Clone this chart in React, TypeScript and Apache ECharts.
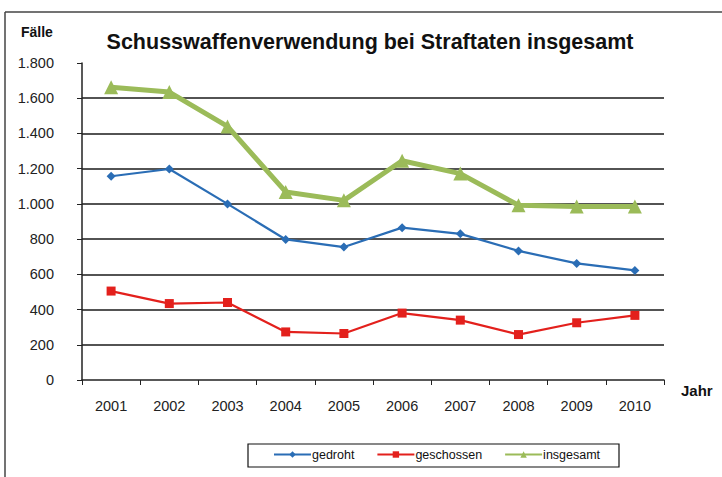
import React, { useEffect, useRef } from "react";
import * as echarts from "echarts";

const years = ["2001", "2002", "2003", "2004", "2005", "2006", "2007", "2008", "2009", "2010"];
const gedroht = [1157, 1198, 1000, 798, 755, 865, 830, 733, 662, 622];
const geschossen = [505, 434, 440, 273, 264, 380, 340, 258, 325, 367];
const insgesamt = [1662, 1635, 1440, 1068, 1020, 1245, 1172, 992, 985, 985];
const yTicks = [0, 200, 400, 600, 800, 1000, 1200, 1400, 1600, 1800];

const FONT = "Liberation Sans, Arial, sans-serif";

export default function App() {
  const ref = useRef<HTMLDivElement>(null);
  useEffect(() => {
    if (!ref.current) return;
    const chart = echarts.init(ref.current, null, { renderer: "svg" });
    const gridColors = yTicks.map((v, i) => (i === 0 || i === yTicks.length - 1 ? "transparent" : "#1a1a1a"));
    chart.setOption({
      animation: false,
      backgroundColor: "#ffffff",
      textStyle: { fontFamily: FONT },
      title: {
        text: "Schusswaffenverwendung bei Straftaten insgesamt",
        left: 370,
        textAlign: "center",
        top: 31,
        padding: 0,
        textStyle: { fontFamily: FONT, fontSize: 21.5, fontWeight: "bold", color: "#111" },
      },
      grid: { left: 82, right: 58, top: 63, bottom: 97, containLabel: false },
      legend: {
        left: 273,
        top: 448,
        padding: 0,
        itemGap: 22,
        itemWidth: 37,
        itemHeight: 8,
        textStyle: { fontFamily: FONT, fontSize: 12.5, color: "#111", padding: [0, 0, 0, -4] },
        data: ["gedroht", "geschossen", "insgesamt"],
      },
      xAxis: {
        type: "category",
        data: years,
        boundaryGap: true,
        axisLine: { lineStyle: { color: "#222", width: 1.5 } },
        axisTick: { show: true, length: 5, lineStyle: { color: "#222" } },
        axisLabel: { margin: 18, fontSize: 14.5, color: "#222", fontFamily: FONT },
        splitLine: { show: false },
      },
      yAxis: {
        type: "value",
        min: 0,
        max: 1800,
        interval: 200,
        axisLine: { show: true, lineStyle: { color: "#222", width: 1.5 } },
        axisTick: { show: true, length: 5, lineStyle: { color: "#222" } },
        axisLabel: {
          margin: 28,
          fontSize: 14.5,
          color: "#222",
          fontFamily: FONT,
          formatter: (v: number) => (v >= 1000 ? Math.floor(v / 1000) + "." + String(v % 1000).padStart(3, "0") : String(v)),
        },
        splitLine: { show: true, lineStyle: { color: gridColors, width: 1.5 } },
      },
      series: [
        {
          name: "gedroht",
          type: "line",
          data: gedroht,
          symbol: "diamond",
          symbolSize: 9,
          lineStyle: { color: "#2a6db5", width: 2.2 },
          itemStyle: { color: "#2a6db5" },
          z: 3,
        },
        {
          name: "geschossen",
          type: "line",
          data: geschossen,
          symbol: "rect",
          symbolSize: 9,
          lineStyle: { color: "#e3201c", width: 2.2 },
          itemStyle: { color: "#e3201c" },
          z: 3,
        },
        {
          name: "insgesamt",
          type: "line",
          data: insgesamt,
          symbol: "triangle",
          symbolSize: 14,
          lineStyle: { color: "#9bbb59", width: 5 },
          itemStyle: { color: "#9bbb59" },
          z: 3,
        },
      ],
      graphic: [
        {
          type: "line",
          shape: { x1: 5, y1: 12, x2: 722, y2: 12 },
          style: { stroke: "#444", lineWidth: 1.5 },
        },
        {
          type: "line",
          shape: { x1: 5, y1: 12, x2: 5, y2: 477 },
          style: { stroke: "#444", lineWidth: 1.5 },
        },
        {
          type: "rect",
          shape: { x: 248, y: 444, width: 371, height: 23 },
          style: { fill: "none", stroke: "#111", lineWidth: 1.2 },
        },
        {
          type: "text",
          left: 21,
          top: 25,
          style: { text: "Fälle", fontFamily: FONT, fontSize: 14, fontWeight: "bold", fill: "#111" },
        },
        {
          type: "text",
          left: 681,
          top: 383,
          style: { text: "Jahr", fontFamily: FONT, fontSize: 15, fontWeight: "bold", fill: "#111" },
        },
      ],
    });
    return () => chart.dispose();
  }, []);
  return (
    <div
      ref={ref}
      style={{ position: "absolute", left: 0, top: 0, width: 722, height: 477 }}
    />
  );
}
